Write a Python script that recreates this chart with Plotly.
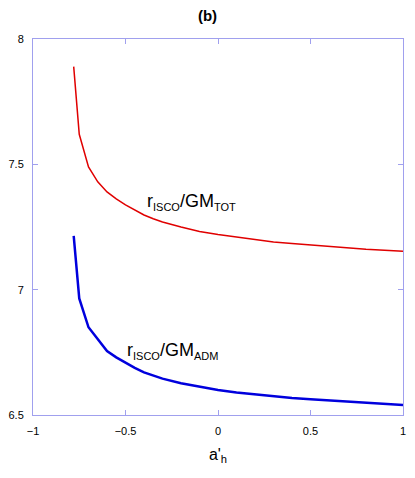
import plotly.graph_objects as go

a_h = [-0.78, -0.75, -0.70, -0.65, -0.60, -0.55, -0.50, -0.45, -0.40, -0.35, -0.30, -0.20, -0.10, 0.0,
       0.1, 0.2, 0.3, 0.4, 0.5, 0.6, 0.7, 0.8, 0.9, 1.0]
r_tot = [7.89, 7.62, 7.49, 7.43, 7.39, 7.362, 7.338, 7.317, 7.298, 7.283, 7.27, 7.25, 7.232, 7.22,
         7.21, 7.20, 7.19, 7.184, 7.178, 7.172, 7.166, 7.161, 7.157, 7.153]
r_adm = [7.215, 6.965, 6.85, 6.80, 6.755, 6.73, 6.708, 6.688, 6.67, 6.656, 6.645, 6.627, 6.613, 6.600,
         6.590, 6.582, 6.575, 6.568, 6.563, 6.558, 6.553, 6.548, 6.544, 6.540]

xticks = [-1, -0.5, 0, 0.5, 1]
xticklabels = ["−1", "−0.5", "0", "0.5", "1"]
yticks = [6.5, 7, 7.5, 8]
yticklabels = ["6.5", "7", "7.5", "8"]

axcol = "#a0a0ee"
font = "Liberation Sans, Arial, sans-serif"

fig = go.Figure()
fig.add_trace(go.Scatter(x=a_h, y=r_tot, mode="lines",
                         line=dict(color="#e00000", width=1.5), showlegend=False))
fig.add_trace(go.Scatter(x=a_h, y=r_adm, mode="lines",
                         line=dict(color="#0000dd", width=2.5), showlegend=False))

sub = "<sub><span style='font-size:11px'>{}</span></sub>"
fig.add_annotation(x=-0.395, y=7.348, xref="x", yref="y", xanchor="left", yanchor="middle",
                   text="r" + sub.format("ISCO") + "/GM" + sub.format("TOT"), showarrow=False,
                   font=dict(family=font, size=18, color="black"))
fig.add_annotation(x=-0.502, y=6.755, xref="x", yref="y", xanchor="left", yanchor="middle",
                   text="r" + sub.format("ISCO") + "/GM" + sub.format("ADM"), showarrow=False,
                   font=dict(family=font, size=18, color="black"))

fig.update_layout(
    width=415, height=478,
    margin=dict(l=30, r=9, t=39, b=63),
    paper_bgcolor="white", plot_bgcolor="white",
    title=dict(text="<b>(b)</b>", x=0.5, xanchor="center", y=0.968, yanchor="middle",
               font=dict(family=font, size=15, color="black")),
    xaxis=dict(range=[-1, 1], tickvals=xticks, ticktext=xticklabels,
               showline=True, mirror="ticks", linecolor=axcol, linewidth=1,
               ticks="inside", ticklen=5, tickcolor=axcol, showgrid=False, zeroline=False,
               ticklabelstandoff=6,
               tickfont=dict(family=font, size=11, color="black"),
               title=dict(text="a'<sub>h</sub>", font=dict(family=font, size=16, color="black"),
                          standoff=12)),
    yaxis=dict(range=[6.5, 8], tickvals=yticks, ticktext=yticklabels,
               showline=True, mirror="ticks", linecolor=axcol, linewidth=1,
               ticks="inside", ticklen=5, tickcolor=axcol, showgrid=False, zeroline=False,
               ticklabelstandoff=6,
               tickfont=dict(family=font, size=11, color="black")),
)

fig.write_html("out.html", config={"displayModeBar": False},
               post_script="document.body.style.margin='0';")
